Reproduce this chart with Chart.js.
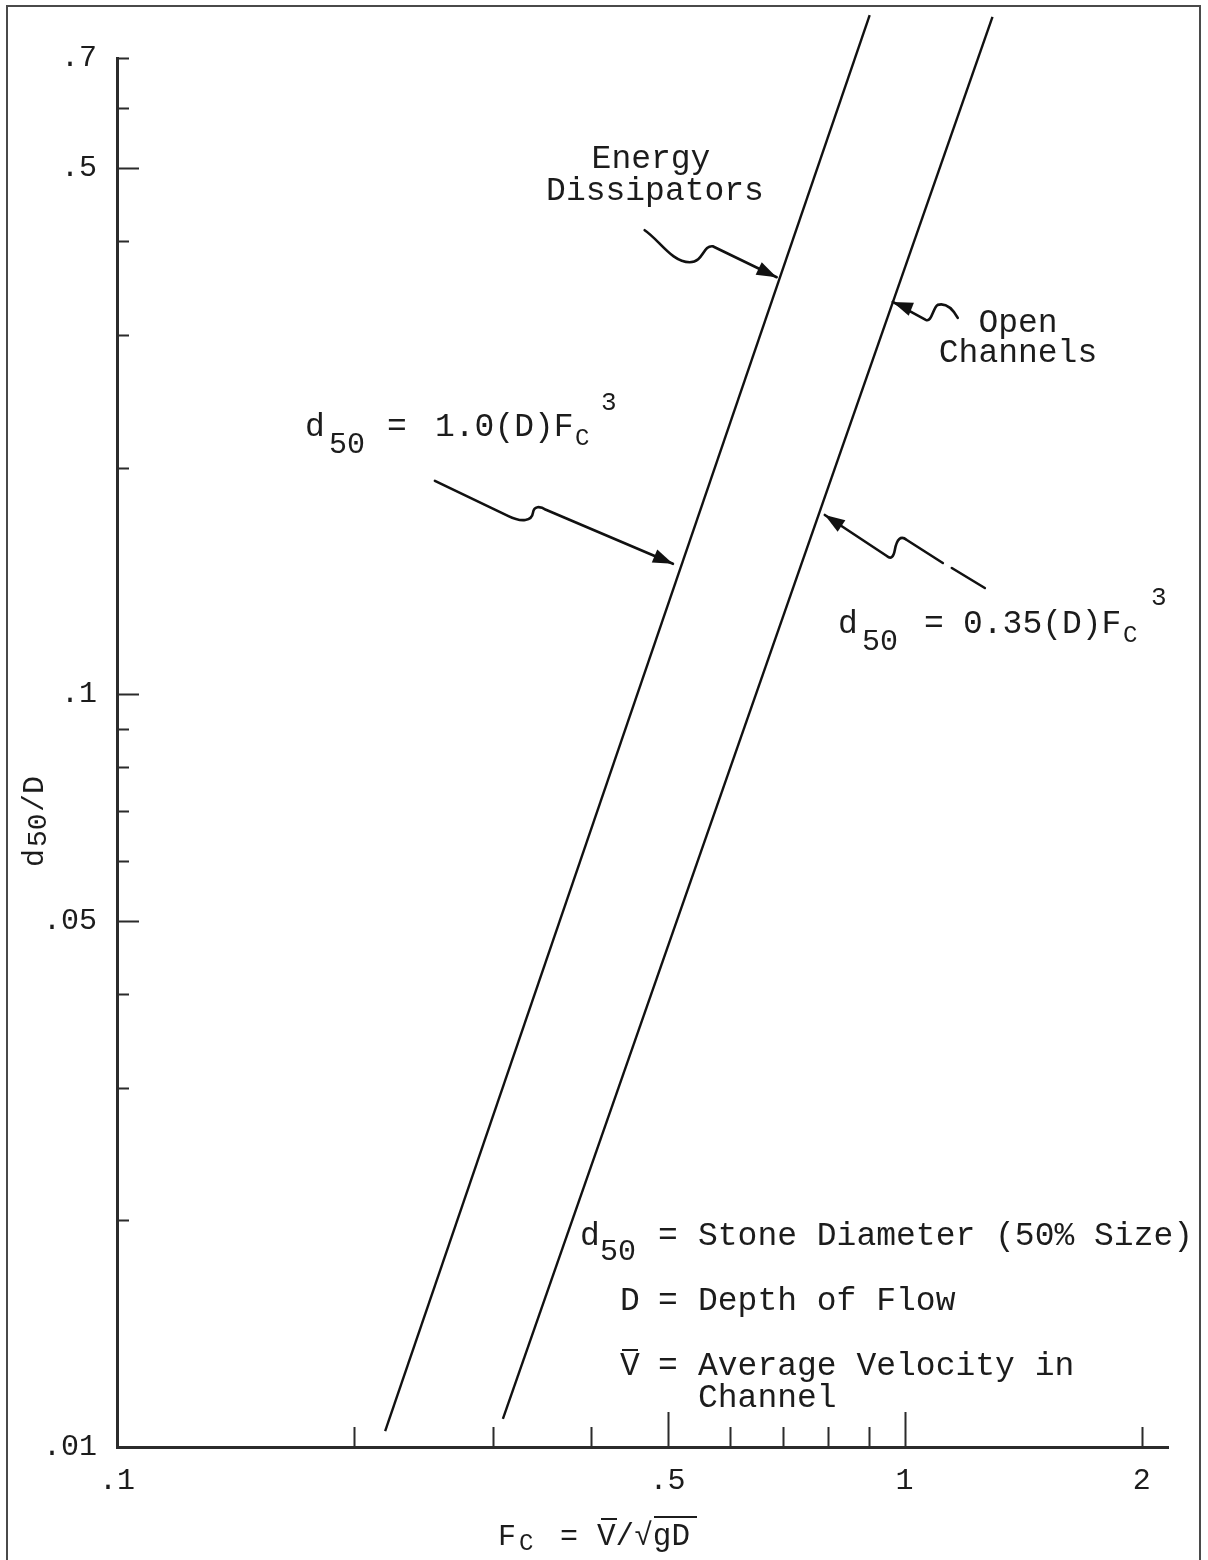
<!DOCTYPE html>
<html>
<head>
<meta charset="utf-8">
<title>Riprap size d50/D against Fc</title>
<script src="https://cdn.jsdelivr.net/npm/chart.js@4.4.1/dist/chart.umd.min.js"></script>
<style>
  html, body { margin: 0; padding: 0; background: #fff; }
  #wrap { position: relative; width: 1208px; height: 1560px; overflow: hidden; }
  #frame { position: absolute; left: 6px; top: 5px; width: 1191px; height: 1600px; border: 2px solid #4a4a4a; }
  canvas { position: absolute; left: 0; top: 0; }
</style>
</head>
<body>
<div id="wrap">
  <div id="frame"></div>
  <canvas id="chart" width="1208" height="1560"></canvas>
</div>
<script>
// design lines: end points (Fc, d50/D)
const dissipatorFc = [0.219, 0.903];
const dissipatorRatio = [0.0105, 0.798];
const channelFc = [0.309, 1.293];
const channelRatio = [0.0109, 0.794];

// axis ticks and the few that carry a label
const xTicks = [0.1, 0.2, 0.3, 0.4, 0.5, 0.6, 0.7, 0.8, 0.9, 1, 2];
const xMajor = [0.5, 1];
const xLabelValues = [0.1, 0.5, 1, 2];
const xLabelText = ['.1', '.5', '1', '2'];
const yTicks = [0.01, 0.02, 0.03, 0.04, 0.05, 0.06, 0.07, 0.08, 0.09, 0.1, 0.2, 0.3, 0.4, 0.5, 0.6, 0.7];
const yMajor = [0.05, 0.1, 0.5];
const yLabelValues = [0.01, 0.05, 0.1, 0.5, 0.7];
const yLabelText = ['.01', '.05', '.1', '.5', '.7'];

// where the call-out arrows touch the lines (Fc, d50/D)
const energyTip = [0.688, 0.358];
const openTip = [0.966, 0.332];
const eq1Tip = [0.508, 0.149];
const eq2Tip = [0.792, 0.173];

const MONO = "'Liberation Mono', 'DejaVu Sans Mono', monospace";
const INK = '#1c1c1c';

function toPoints(xs, ys) {
    const pts = [];
    for (let i = 0; i < xs.length; i++) {
        pts.push({ x: xs[i], y: ys[i] });
    }
    return pts;
}

// text made of pieces: [text, dx, dy, size]
function drawParts(ctx, x0, y0, parts) {
    for (let i = 0; i < parts.length; i++) {
        const p = parts[i];
        ctx.font = p[3] + 'px ' + MONO;
        ctx.fillText(p[0], x0 + p[1], y0 + p[2]);
    }
}

function arrowHead(ctx, fx, fy, tx, ty) {
    const a = Math.atan2(ty - fy, tx - fx);
    const len = 20, half = 7;
    ctx.beginPath();
    ctx.moveTo(tx, ty);
    ctx.lineTo(tx - len * Math.cos(a) + half * Math.sin(a), ty - len * Math.sin(a) - half * Math.cos(a));
    ctx.lineTo(tx - len * Math.cos(a) - half * Math.sin(a), ty - len * Math.sin(a) + half * Math.cos(a));
    ctx.closePath();
    ctx.fill();
}

// squiggly pointers, offsets relative to the tip
const pointers = [
    { at: energyTip, from: [-64, -31], path: [['M', -132, -47], ['C', -117, -37, -105, -15, -87, -15], ['C', -73, -15, -74, -32, -64, -31], ['L', 0, 0]] },
    { at: openTip, from: [30, 12], path: [['M', 65, 16], ['Q', 56, 0, 45, 3], ['C', 40, 6, 39, 21, 33, 18], ['L', 0, 0]] },
    { at: eq1Tip, from: [-127, -54], path: [['M', -238, -83], ['L', -165, -48], ['C', -151, -41, -141, -43, -140, -51], ['C', -139, -58, -133, -58, -127, -54], ['L', 0, 0]] },
    { at: eq2Tip, from: [62, 41], path: [['M', 118, 48], ['L', 82, 25], ['C', 76, 20, 72, 24, 70, 35], ['Q', 68, 46, 62, 41], ['L', 0, 0]], dash: [127, 53, 160, 73] }
];

function tracePath(ctx, ox, oy, path) {
    ctx.beginPath();
    for (let i = 0; i < path.length; i++) {
        const s = path[i];
        if (s[0] === 'M') ctx.moveTo(ox + s[1], oy + s[2]);
        if (s[0] === 'L') ctx.lineTo(ox + s[1], oy + s[2]);
        if (s[0] === 'Q') ctx.quadraticCurveTo(ox + s[1], oy + s[2], ox + s[3], oy + s[4]);
        if (s[0] === 'C') ctx.bezierCurveTo(ox + s[1], oy + s[2], ox + s[3], oy + s[4], ox + s[5], oy + s[6]);
    }
    ctx.stroke();
}

const sheetPlugin = {
    id: 'sheet',
    afterDraw(chart) {
        const ctx = chart.ctx;
        const xs = chart.scales.x;
        const ys = chart.scales.y;
        const area = chart.chartArea;
        ctx.save();
        ctx.strokeStyle = '#2b2b2b';
        ctx.fillStyle = INK;
        ctx.lineCap = 'butt';

        // tick marks point into the plot
        ctx.lineWidth = 2;
        ctx.beginPath();
        for (let i = 1; i < xTicks.length; i++) {
            const px = Math.round(xs.getPixelForValue(xTicks[i])) + 0.5;
            const len = xMajor.indexOf(xTicks[i]) >= 0 ? 35 : 20;
            ctx.moveTo(px, area.bottom);
            ctx.lineTo(px, area.bottom - len);
        }
        for (let i = 1; i < yTicks.length; i++) {
            const py = Math.round(ys.getPixelForValue(yTicks[i])) + 0.5;
            const len = yMajor.indexOf(yTicks[i]) >= 0 ? 22 : 12;
            ctx.moveTo(area.left, py);
            ctx.lineTo(area.left + len, py);
        }
        ctx.stroke();

        // call-out arrows
        ctx.lineWidth = 2.6;
        ctx.lineJoin = 'round';
        ctx.lineCap = 'round';
        ctx.strokeStyle = '#111';
        ctx.fillStyle = '#111';
        for (let i = 0; i < pointers.length; i++) {
            const p = pointers[i];
            const ox = xs.getPixelForValue(p.at[0]);
            const oy = ys.getPixelForValue(p.at[1]);
            tracePath(ctx, ox, oy, p.path);
            arrowHead(ctx, ox + p.from[0], oy + p.from[1], ox, oy);
            if (p.dash) {
                ctx.beginPath();
                ctx.moveTo(ox + p.dash[0], oy + p.dash[1]);
                ctx.lineTo(ox + p.dash[2], oy + p.dash[3]);
                ctx.stroke();
            }
        }

        // labels
        ctx.fillStyle = INK;
        ctx.textBaseline = 'alphabetic';
        ctx.textAlign = 'center';
        ctx.font = '33px ' + MONO;
        ctx.fillText('Energy', 651, 168);
        ctx.fillText('Dissipators', 655, 200);
        ctx.fillText('Open', 1018, 332);
        ctx.fillText('Channels', 1018, 362);

        ctx.textAlign = 'left';
        drawParts(ctx, 305, 436, [['d', 0, 0, 33], ['50', 24, 17, 30], ['=', 82, 0, 33], ['1.0(D)F', 130, 0, 33], ['C', 270, 9, 24], ['3', 296, -26, 26]]);
        drawParts(ctx, 838, 633, [['d', 0, 0, 33], ['50', 24, 17, 30], ['=', 86, 0, 33], ['0.35(D)F', 125, 0, 33], ['C', 285, 9, 24], ['3', 313, -28, 26]]);

        // key
        drawParts(ctx, 580, 1245, [['d', 0, 0, 33], ['50', 20, 15, 30], ['=', 78, 0, 33], ['Stone Diameter (50% Size)', 118, 0, 33]]);
        drawParts(ctx, 580, 1310, [['D', 40, 0, 33], ['=', 78, 0, 33], ['Depth of Flow', 118, 0, 33]]);
        drawParts(ctx, 580, 1375, [['V', 40, 0, 33], ['=', 78, 0, 33], ['Average Velocity in', 118, 0, 33]]);
        drawParts(ctx, 580, 1407, [['Channel', 118, 0, 33]]);
        ctx.lineWidth = 2;
        ctx.lineCap = 'butt';
        ctx.strokeStyle = INK;
        ctx.beginPath();
        ctx.moveTo(622, 1350);
        ctx.lineTo(638, 1350);
        ctx.stroke();

        // x axis title
        drawParts(ctx, 498, 1545, [['F', 0, 0, 30], ['C', 21, 5, 24], ['=', 62, 0, 30], ['V/\u221AgD', 99, 0, 31]]);
        ctx.beginPath();
        ctx.moveTo(601, 1519);
        ctx.lineTo(617, 1519);
        ctx.moveTo(654, 1517);
        ctx.lineTo(697, 1517);
        ctx.stroke();

        // y axis title
        ctx.translate(43, 867);
        ctx.rotate(-Math.PI / 2);
        drawParts(ctx, 0, 0, [['d', 0, 0, 30], ['50', 20, 3, 28], ['/D', 55, 0, 30]]);
        ctx.restore();
    }
};

const labelFont = { family: MONO, size: 30 };

new Chart(document.getElementById('chart'), {
    type: 'scatter',
    data: {
        datasets: [
            { label: 'd50 = 1.0(D)Fc^3', data: toPoints(dissipatorFc, dissipatorRatio), borderColor: '#111', backgroundColor: '#111' },
            { label: 'd50 = 0.35(D)Fc^3', data: toPoints(channelFc, channelRatio), borderColor: '#111', backgroundColor: '#111' }
        ]
    },
    options: {
        responsive: false,
        animation: false,
        devicePixelRatio: 1,
        layout: { padding: { top: 58, right: 40, left: 0, bottom: 0 } },
        datasets: {
            scatter: { showLine: true, pointRadius: 0, borderWidth: 2.4, clip: false }
        },
        plugins: { legend: { display: false }, tooltip: { enabled: false } },
        scales: {
            x: {
                type: 'logarithmic',
                min: 0.1,
                max: 2.16,
                afterBuildTicks: function(s) { s.ticks = xTicks.map(function(v) { return { value: v }; }); },
                afterFit: function(s) { s.height = 113; },
                grid: { display: false },
                border: { display: true, color: '#2b2b2b', width: 3 },
                ticks: {
                    autoSkip: false, maxRotation: 0, padding: 8, color: INK, font: labelFont,
                    callback: function(v) { const i = xLabelValues.indexOf(v); return i < 0 ? '' : xLabelText[i]; }
                }
            },
            y: {
                type: 'logarithmic',
                min: 0.01,
                max: 0.7,
                afterBuildTicks: function(s) { s.ticks = yTicks.map(function(v) { return { value: v }; }); },
                afterFit: function(s) { s.width = 117; },
                grid: { display: false },
                border: { display: true, color: '#2b2b2b', width: 3 },
                ticks: {
                    autoSkip: false, padding: 12, color: INK, font: labelFont,
                    callback: function(v) { const i = yLabelValues.indexOf(v); return i < 0 ? '' : yLabelText[i]; }
                }
            }
        }
    },
    plugins: [sheetPlugin]
});
</script>
</body>
</html>
